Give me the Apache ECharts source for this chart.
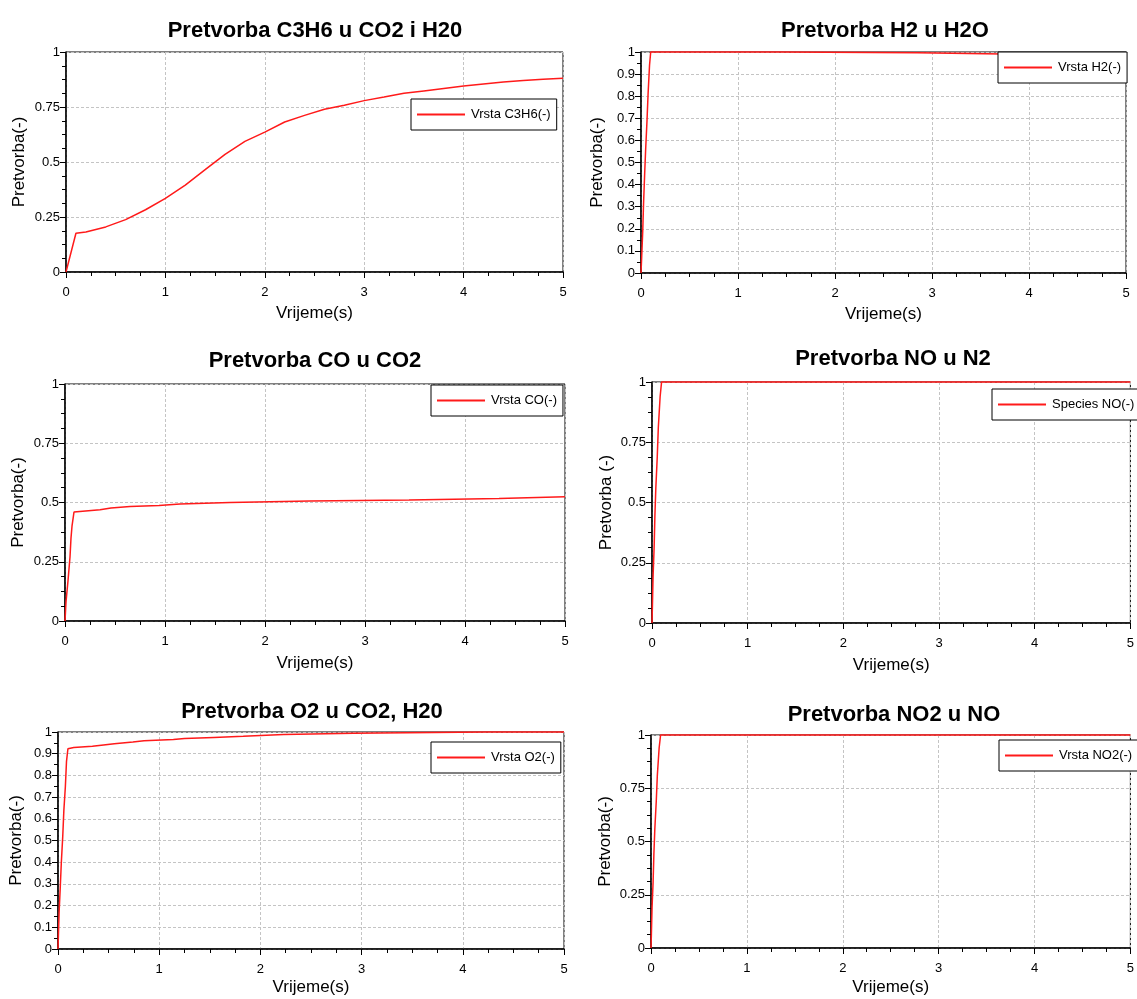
<!DOCTYPE html>
<html>
<head>
<meta charset="utf-8">
<title>Pretvorba</title>
<script src="https://cdn.jsdelivr.net/npm/echarts@6/dist/echarts.min.js"></script>
<style>
html, body { margin: 0; padding: 0; background: #fff; }
#main { width: 1137px; height: 999px; }
</style>
</head>
<body>
<div id="main"></div>
<script>
// vrijeme (s) / pretvorba (-)
var tC3H6 = [0, 0.1, 0.2, 0.4, 0.6, 0.8, 1.0, 1.2, 1.4, 1.6, 1.8, 2.0, 2.2, 2.4, 2.6, 2.8, 3.0, 3.2, 3.4, 3.6, 3.8, 4.0, 4.2, 4.4, 4.6, 4.8, 5.0]
var yC3H6 = [0, 0.176, 0.182, 0.205, 0.238, 0.283, 0.335, 0.395, 0.465, 0.535, 0.594, 0.636, 0.682, 0.712, 0.74, 0.758, 0.779, 0.795, 0.812, 0.823, 0.834, 0.845, 0.855, 0.864, 0.871, 0.876, 0.881]

var tH2 = [0, 0.007, 0.018, 0.026, 0.037, 0.048, 0.062, 0.073, 0.088, 0.1, 1.45, 1.45, 2.85, 2.85, 3.55, 3.55, 5]
var yH2 = [0, 0.07, 0.19, 0.31, 0.44, 0.56, 0.69, 0.81, 0.94, 1, 1, 0.997, 0.997, 0.992, 0.992, 0.983, 0.983]

var tCO = [0, 0.01, 0.03, 0.05, 0.06, 0.07, 0.09, 0.1, 0.35, 0.35, 0.46, 0.46, 0.65, 0.65, 0.94, 0.94, 1.15, 1.15, 1.65, 1.65, 2.45, 2.45, 3.44, 3.44, 4.34, 4.34, 5]
var yCO = [0, 0.08, 0.17, 0.27, 0.35, 0.4, 0.46, 0.466, 0.469, 0.477, 0.477, 0.483, 0.483, 0.487, 0.487, 0.494, 0.494, 0.5, 0.5, 0.506, 0.506, 0.511, 0.511, 0.517, 0.517, 0.524, 0.524]

var tNO = [0, 0.004, 0.011, 0.022, 0.03, 0.04, 0.055, 0.066, 0.085, 0.1, 5]
var yNO = [0, 0.064, 0.19, 0.31, 0.44, 0.56, 0.69, 0.81, 0.94, 1, 1]

var tO2 = [0, 0.004, 0.011, 0.022, 0.033, 0.047, 0.058, 0.073, 0.084, 0.098, 0.156, 0.34, 0.45, 0.556, 0.74, 0.85, 1.14, 1.25, 1.54, 1.83, 2.23, 2.92, 4.23, 5]
var yO2 = [0, 0.06, 0.17, 0.28, 0.4, 0.52, 0.64, 0.75, 0.865, 0.923, 0.929, 0.934, 0.94, 0.946, 0.954, 0.96, 0.966, 0.97, 0.975, 0.98, 0.988, 0.994, 1, 1]

var tNO2 = [0, 0.004, 0.011, 0.022, 0.03, 0.04, 0.055, 0.066, 0.085, 0.1, 5]
var yNO2 = [0, 0.064, 0.19, 0.31, 0.44, 0.56, 0.69, 0.81, 0.94, 1, 1]

var titles = ['Pretvorba C3H6 u CO2 i H20', 'Pretvorba H2 u H2O', 'Pretvorba CO u CO2',
  'Pretvorba NO u N2', 'Pretvorba O2 u CO2, H20', 'Pretvorba NO2 u NO']
var seriesNames = ['Vrsta C3H6(-)', 'Vrsta H2(-)', 'Vrsta CO(-)', 'Species NO(-)', 'Vrsta O2(-)', 'Vrsta NO2(-)']
var yNames = ['Pretvorba(-)', 'Pretvorba(-)', 'Pretvorba(-)', 'Pretvorba (-)', 'Pretvorba(-)', 'Pretvorba(-)']
var xName = 'Vrijeme(s)'
var yStep = [0.25, 0.1, 0.25, 0.25, 0.1, 0.25]
var times = [tC3H6, tH2, tCO, tNO, tO2, tNO2]
var values = [yC3H6, yH2, yCO, yNO, yO2, yNO2]

// panel layout (pixels)
var panels = [
  { left: 66, top: 52, width: 497, height: 220, titleX: 315, titleY: 20, legX: 411, legY: 99, yGap: 38, xGap: 33 },
  { left: 641, top: 52, width: 485, height: 221, titleX: 885, titleY: 20, legX: 998, legY: 52, yGap: 35, xGap: 33 },
  { left: 65, top: 384, width: 500, height: 237, titleX: 315, titleY: 350, legX: 431, legY: 385, yGap: 38, xGap: 34 },
  { left: 652, top: 382, width: 481, height: 241, titleX: 893, titleY: 348, legX: 992, legY: 389, yGap: 37, xGap: 34 },
  { left: 58, top: 732, width: 506, height: 217, titleX: 312, titleY: 701, legX: 431, legY: 742, yGap: 33, xGap: 30 },
  { left: 651, top: 735, width: 489, height: 213, titleX: 894, titleY: 704, legX: 999, legY: 740, yGap: 37, xGap: 31 }
]

var font = "'Liberation Sans', Arial, sans-serif"

var option = {
  backgroundColor: '#fff',
  animation: false,
  title: [],
  legend: [],
  grid: [],
  xAxis: [],
  yAxis: [],
  series: []
}

panels.forEach(function (p, i) {
  option.title.push({
    text: titles[i],
    left: p.titleX,
    top: p.titleY,
    textAlign: 'center',
    padding: 0,
    textStyle: { fontFamily: font, fontSize: 22, fontWeight: 'bold', color: '#000' }
  })
  option.grid.push({
    left: p.left,
    top: p.top,
    width: p.width,
    height: p.height,
    show: true,
    borderColor: '#000',
    borderWidth: 1,
    backgroundColor: 'transparent'
  })
  option.legend.push({
    data: [seriesNames[i]],
    left: p.legX,
    top: p.legY,
    orient: 'horizontal',
    padding: [9, 6, 9, 6],
    icon: 'rect',
    itemWidth: 48,
    itemHeight: 2,
    borderColor: '#000',
    borderWidth: 1,
    backgroundColor: '#fff',
    textStyle: { fontFamily: font, fontSize: 13, color: '#000', padding: [0, 0, 0, 1] }
  })
  option.xAxis.push({
    type: 'value',
    gridIndex: i,
    min: 0,
    max: 5,
    interval: 1,
    name: xName,
    nameLocation: 'middle',
    nameGap: p.xGap,
    nameTextStyle: { fontFamily: font, fontSize: 17, color: '#000' },
    axisLine: { show: true, onZero: false, lineStyle: { color: '#000', width: 1.5 } },
    axisTick: { show: true, length: 6, lineStyle: { color: '#000' } },
    minorTick: { show: true, splitNumber: 4, length: 4, lineStyle: { color: '#000' } },
    axisLabel: { fontFamily: font, fontSize: 13, color: '#000', margin: 14 },
    splitLine: { show: true, lineStyle: { color: '#c4c4c4', type: [3, 2] } }
  })
  option.yAxis.push({
    type: 'value',
    gridIndex: i,
    min: 0,
    max: 1,
    interval: yStep[i],
    name: yNames[i],
    nameLocation: 'middle',
    nameGap: p.yGap,
    nameTextStyle: { fontFamily: font, fontSize: 17, color: '#000' },
    axisLine: { show: true, onZero: false, lineStyle: { color: '#000', width: 1.5 } },
    axisTick: { show: true, length: 6, lineStyle: { color: '#000' } },
    minorTick: { show: true, splitNumber: yStep[i] === 0.1 ? 2 : 4, length: 4, lineStyle: { color: '#000' } },
    axisLabel: { fontFamily: font, fontSize: 13, color: '#000', margin: 6 },
    splitLine: { show: true, lineStyle: { color: '#c4c4c4', type: [3, 2] } }
  })
  option.series.push({
    name: seriesNames[i],
    type: 'line',
    xAxisIndex: i,
    yAxisIndex: i,
    symbol: 'none',
    clip: false,
    lineStyle: { color: '#ff1a1a', width: 1.5 },
    itemStyle: { color: '#ff1a1a' },
    data: times[i].map(function (t, k) { return [t, values[i][k]] })
  })
})

var myChart = echarts.init(document.getElementById('main'), null, { renderer: 'canvas' })
myChart.setOption(option)
</script>
</body>
</html>
